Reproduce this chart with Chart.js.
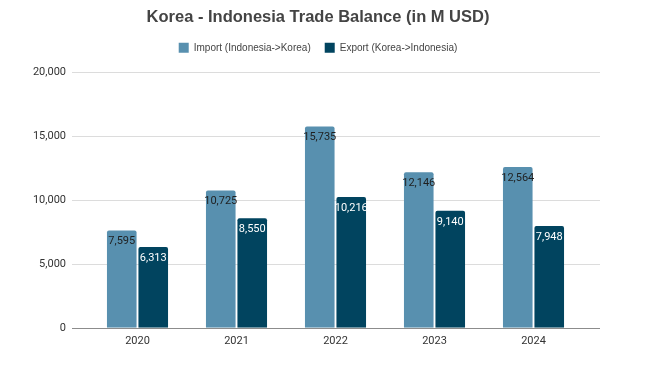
<!DOCTYPE html>
<html>
<head>
<meta charset="utf-8">
<script src="https://cdn.jsdelivr.net/npm/chart.js@4"></script>
<style>
  html, body { margin: 0; padding: 0; background: #fff; }
  #wrap { width: 653px; height: 388px; }
</style>
</head>
<body>
<div id="wrap"><canvas id="tradeChart" width="653" height="388"></canvas></div>
<script>
// data
const years = ['2020', '2021', '2022', '2023', '2024'];
const importValues = [7595, 10725, 15735, 12146, 12564];
const exportValues = [6313, 8550, 10216, 9140, 7948];
const yTicks = [0, 5000, 10000, 15000, 20000];

const importColor = '#5890af';
const exportColor = '#01445f';

// grid lines run wider than the category band, so draw them here
const wideGrid = {
    id: 'wideGrid',
    beforeDatasetsDraw(chart) {
        const ctx = chart.ctx;
        const y = chart.scales.y;
        ctx.save();
        yTicks.forEach(v => {
            const py = Math.round(y.getPixelForValue(v)) + 0.5;
            ctx.strokeStyle = v === 0 ? '#8c8c8c' : '#dcdcdc';
            ctx.lineWidth = 1;
            ctx.beginPath();
            ctx.moveTo(72, py);
            ctx.lineTo(600, py);
            ctx.stroke();
        });
        ctx.restore();
    }
};

// value labels just inside the top of each bar
const barLabels = {
    id: 'barLabels',
    afterDatasetsDraw(chart) {
        const ctx = chart.ctx;
        ctx.save();
        ctx.font = '11px Roboto, "Liberation Sans", sans-serif';
        ctx.textAlign = 'center';
        ctx.textBaseline = 'middle';
        chart.data.datasets.forEach((ds, di) => {
            ctx.fillStyle = di === 0 ? '#1f1f1f' : '#ffffff';
            chart.getDatasetMeta(di).data.forEach((bar, i) => {
                ctx.fillText(ds.data[i].toLocaleString('en-US'), bar.x, bar.y + 11);
            });
        });
        ctx.restore();
    }
};

// empty spacer axes, only used to push the plot area into place
const spacer = (pos, size) => ({
    type: 'linear',
    position: pos,
    display: true,
    grid: { display: false, drawTicks: false },
    border: { display: false },
    ticks: { display: false },
    afterFit(scale) {
        if (pos === 'top') scale.height = size; else scale.width = size;
    }
});

new Chart(document.getElementById('tradeChart'), {
    type: 'bar',
    data: {
        labels: years,
        datasets: [
            {
                label: 'Import (Indonesia->Korea)',
                data: importValues,
                backgroundColor: importColor,
                borderRadius: 2,
                categoryPercentage: 0.636,
                barPercentage: 0.94
            },
            {
                label: 'Export (Korea->Indonesia)',
                data: exportValues,
                backgroundColor: exportColor,
                borderRadius: 2,
                categoryPercentage: 0.636,
                barPercentage: 0.94
            }
        ]
    },
    options: {
        responsive: false,
        animation: false,
        layout: { padding: { left: 0, right: 17, top: 0, bottom: 33 } },
        plugins: {
            title: {
                display: true,
                text: 'Korea - Indonesia Trade Balance (in M USD)',
                color: '#444444',
                font: { family: '"Liberation Sans", Arial, sans-serif', size: 16.5, weight: 'bold' },
                padding: { top: 8, bottom: 1 }
            },
            legend: {
                labels: {
                    boxWidth: 10,
                    boxHeight: 10,
                    padding: 14,
                    color: '#444444',
                    font: { family: '"Liberation Sans", Arial, sans-serif', size: 10 }
                }
            },
            tooltip: { enabled: false }
        },
        scales: {
            x: {
                grid: { display: false, drawTicks: false },
                border: { display: false },
                ticks: {
                    color: '#333333',
                    padding: 7,
                    font: { family: 'Roboto, sans-serif', size: 11 }
                }
            },
            y: {
                min: 0,
                max: 20000,
                afterFit(scale) { scale.width = 88; },
                afterBuildTicks(scale) { scale.ticks = yTicks.map(v => ({ value: v })); },
                grid: { display: false, drawTicks: false },
                border: { display: false },
                ticks: {
                    color: '#333333',
                    padding: 22,
                    font: { family: 'Roboto, sans-serif', size: 11 },
                    callback: v => v.toLocaleString('en-US')
                }
            },
            padTop: spacer('top', 9),
            padRight: spacer('right', 53)
        }
    },
    plugins: [wideGrid, barLabels]
});
</script>
</body>
</html>
